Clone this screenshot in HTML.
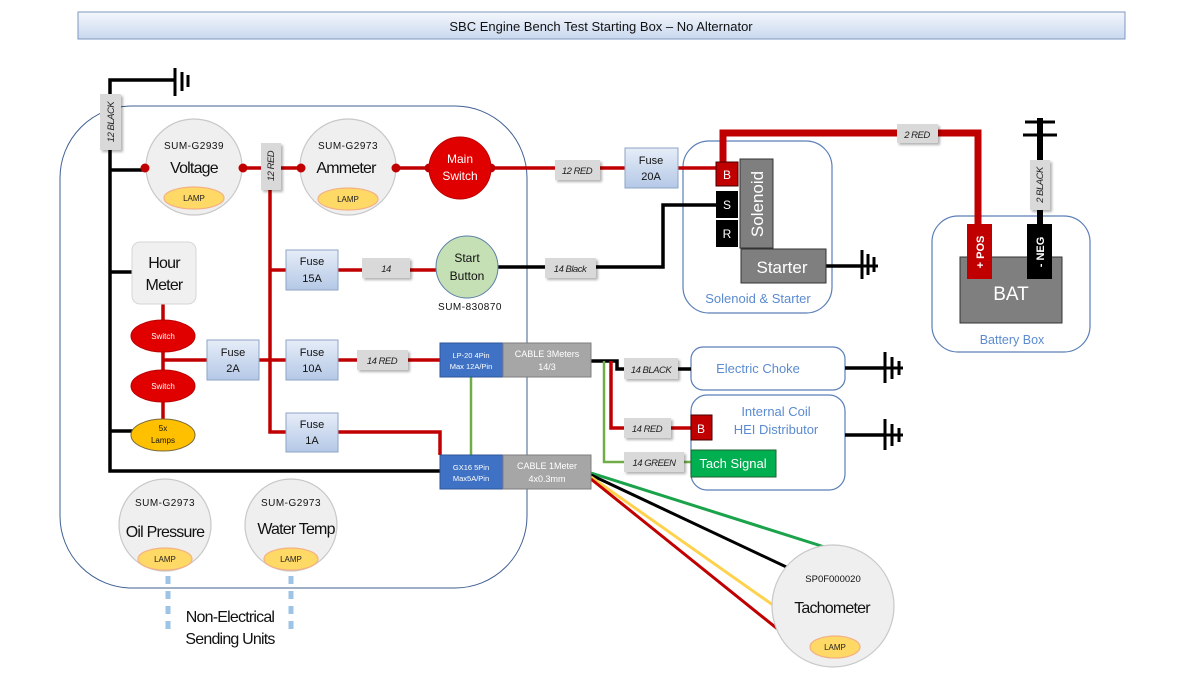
<!DOCTYPE html>
<html><head><meta charset="utf-8"><style>
html,body{margin:0;padding:0;background:#fff;}
svg{display:block;font-family:"Liberation Sans",sans-serif;}
</style></head><body>
<svg width="1200" height="675" viewBox="0 0 1200 675" xmlns="http://www.w3.org/2000/svg">
<defs>
<linearGradient id="tg" x1="0" y1="0" x2="0" y2="1"><stop offset="0" stop-color="#f4f7fc"/><stop offset="1" stop-color="#c9d8ef"/></linearGradient>
<linearGradient id="fg" x1="0" y1="0" x2="0" y2="1"><stop offset="0" stop-color="#e6edf8"/><stop offset="1" stop-color="#b4c8e6"/></linearGradient>
<filter id="sh" x="-20%" y="-20%" width="150%" height="160%"><feDropShadow dx="2" dy="2" stdDeviation="1.2" flood-color="#000" flood-opacity="0.3"/></filter>
</defs>
<!-- title -->
<rect x="78" y="12" width="1047" height="27" fill="url(#tg)" stroke="#7f97bd" stroke-width="1"/>
<text x="601" y="31" font-size="13" text-anchor="middle" fill="#111">SBC Engine Bench Test Starting Box – No Alternator</text>

<!-- big box -->
<rect x="60" y="106" width="467" height="482" rx="72" fill="none" stroke="#3f5f92" stroke-width="1"/>
<!-- sub boxes -->
<rect x="683" y="141" width="149" height="172" rx="26" fill="none" stroke="#5a7fb8" stroke-width="1.2"/>
<rect x="932" y="216" width="158" height="136" rx="26" fill="none" stroke="#5a7fb8" stroke-width="1.2"/>
<rect x="691" y="347" width="154" height="43" rx="12" fill="none" stroke="#5a7fb8" stroke-width="1.2"/>
<rect x="691" y="395" width="154" height="95" rx="16" fill="none" stroke="#5a7fb8" stroke-width="1.2"/>

<!-- black ground wires -->
<g stroke="#000" stroke-width="3.5" fill="none">
<polyline points="175,80 110,80 110,471 440,471"/>
<line x1="110" y1="170" x2="145" y2="170"/>
<line x1="110" y1="272" x2="132" y2="272"/>
<line x1="110" y1="431" x2="135" y2="431"/>
<polyline points="498,267 663,267 663,205 716,205"/>
<polyline points="591,361 617,361 617,369 691,369"/>
<line x1="825" y1="266" x2="862" y2="266"/>
<line x1="845" y1="368" x2="885" y2="368"/>
<line x1="845" y1="435" x2="885" y2="435"/>
</g>
<line x1="1040" y1="118" x2="1040" y2="228" stroke="#000" stroke-width="6"/>
<g stroke="#000" stroke-width="3">
<line x1="1025" y1="122" x2="1055" y2="122"/><line x1="1023" y1="135" x2="1057" y2="135"/>
</g>
<!-- ground symbols -->
<g stroke="#000" stroke-width="3">
<line x1="175" y1="68" x2="175" y2="96"/><line x1="182" y1="72" x2="182" y2="91"/><line x1="188" y1="75" x2="188" y2="87"/>
<line x1="862" y1="250" x2="862" y2="279"/><line x1="868" y1="254" x2="868" y2="275"/><line x1="874" y1="257" x2="874" y2="272"/><line x1="862" y1="266" x2="878" y2="266"/>
<line x1="885" y1="352" x2="885" y2="383"/><line x1="892" y1="357" x2="892" y2="379"/><line x1="899" y1="361" x2="899" y2="375"/><line x1="885" y1="368" x2="903" y2="368"/>
<line x1="885" y1="419" x2="885" y2="450"/><line x1="892" y1="424" x2="892" y2="446"/><line x1="899" y1="428" x2="899" y2="442"/><line x1="885" y1="435" x2="903" y2="435"/>
</g>

<!-- red wires -->
<g stroke="#c00000" stroke-width="3.5" fill="none">
<line x1="243" y1="168" x2="301" y2="168"/>
<line x1="396" y1="168" x2="429" y2="168"/>
<line x1="491" y1="168" x2="716" y2="168"/>
<polyline points="270,190 270,432 286,432"/>
<line x1="270" y1="270" x2="286" y2="270"/>
<line x1="338" y1="270" x2="436" y2="270"/>
<line x1="163" y1="304" x2="163" y2="436"/>
<line x1="163" y1="360" x2="207" y2="360"/>
<line x1="259" y1="360" x2="286" y2="360"/>
<line x1="338" y1="360" x2="440" y2="360"/>
<polyline points="338,432 440,432 440,455"/>
<polyline points="611,361 611,428 691,428"/>
</g>
<polyline points="723,162 723,133 978,133 978,228" fill="none" stroke="#c00000" stroke-width="7"/>
<!-- green wires -->
<g stroke="#70ad47" stroke-width="2.5" fill="none">
<line x1="471" y1="377" x2="471" y2="455"/>
<polyline points="604,361 604,462 691,462"/>
</g>
<!-- tach wires -->
<g stroke-width="3" fill="none">
<line x1="591" y1="473" x2="834" y2="550" stroke="#1aa34a"/>
<line x1="591" y1="475" x2="797" y2="572" stroke="#000"/>
<line x1="591" y1="477" x2="780" y2="610" stroke="#ffd24d"/>
<line x1="591" y1="479" x2="795" y2="643" stroke="#c00000"/>
</g>
<!-- dotted -->
<g stroke="#9dc3e6" stroke-width="5" stroke-dasharray="8,7">
<line x1="168" y1="576" x2="168" y2="630"/><line x1="291" y1="576" x2="291" y2="630"/>
</g>

<!-- hour meter -->
<rect x="132" y="242" width="64" height="62" rx="8" fill="#f0f0f0" stroke="#d6d6d6"/>

<!-- gauges -->
<g fill="#efefef" stroke="#c8c8c8" stroke-width="1.2">
<circle cx="194" cy="167" r="48"/>
<circle cx="348" cy="167" r="48"/>
<circle cx="165" cy="525" r="46"/>
<circle cx="291" cy="525" r="46"/>
<circle cx="833" cy="606" r="61"/>
</g>
<g fill="#ffd966" stroke="#f4b183" stroke-width="1.2">
<ellipse cx="194" cy="198" rx="30" ry="11"/><ellipse cx="348" cy="199" rx="30" ry="11"/>
<ellipse cx="165" cy="559" rx="27" ry="11"/><ellipse cx="291" cy="559" rx="27" ry="11"/>
<ellipse cx="835" cy="647" rx="25" ry="11"/>
</g>
<g fill="#c00000"><circle cx="145" cy="168" r="4.5"/><circle cx="243" cy="168" r="4.5"/><circle cx="301" cy="168" r="4.5"/><circle cx="396" cy="168" r="4.5"/><circle cx="429" cy="168" r="4.5"/><circle cx="491" cy="168" r="4.5"/></g>
<circle cx="460" cy="168" r="31" fill="#e00000" stroke="#b00" stroke-width="1"/>
<circle cx="467" cy="267" r="31" fill="#c5e0b4" stroke="#5b7fa8" stroke-width="1"/>
<g font-size="10" text-anchor="middle" fill="#111">
<text x="194" y="149" letter-spacing="0.5">SUM-G2939</text>
<text x="348" y="149" letter-spacing="0.5">SUM-G2973</text>
<text x="165" y="506" letter-spacing="0.5">SUM-G2973</text>
<text x="291" y="506" letter-spacing="0.5">SUM-G2973</text>
<text x="470" y="310" letter-spacing="0.5">SUM-830870</text>
<text x="833" y="582" font-size="9.5">SP0F000020</text>
</g>
<g font-size="8" text-anchor="middle" fill="#222">
<text x="194" y="201">LAMP</text><text x="348" y="202">LAMP</text><text x="165" y="562">LAMP</text><text x="291" y="562">LAMP</text><text x="835" y="650">LAMP</text>
</g>
<g font-size="16" text-anchor="middle" fill="#111" letter-spacing="-0.8">
<text x="194" y="173">Voltage</text><text x="346" y="173">Ammeter</text>
<text x="165" y="537">Oil Pressure</text><text x="296" y="534">Water Temp</text>
<text x="832" y="613">Tachometer</text>
<text x="164" y="268">Hour</text><text x="164" y="290">Meter</text>
<text x="230" y="622">Non-Electrical</text><text x="230" y="644">Sending Units</text>
</g>
<g font-size="12" text-anchor="middle" fill="#fff"><text x="460" y="163">Main</text><text x="460" y="180">Switch</text></g>
<g font-size="12" text-anchor="middle" fill="#111"><text x="467" y="262">Start</text><text x="467" y="280">Button</text></g>

<!-- switches -->
<ellipse cx="163" cy="336" rx="32" ry="16" fill="#e00000" stroke="#b00"/>
<ellipse cx="163" cy="386" rx="32" ry="16" fill="#e00000" stroke="#b00"/>
<ellipse cx="163" cy="435" rx="32" ry="16" fill="#ffc000" stroke="#7a6a3a"/>
<g font-size="8" text-anchor="middle"><text x="163" y="339" fill="#fff">Switch</text><text x="163" y="389" fill="#fff">Switch</text><text x="163" y="431" fill="#111">5x</text><text x="163" y="443" fill="#111">Lamps</text></g>

<!-- fuses -->
<g fill="url(#fg)" stroke="#8ea4c6" stroke-width="1">
<rect x="286" y="250" width="52" height="40"/><rect x="286" y="340" width="52" height="40"/><rect x="207" y="340" width="52" height="40"/><rect x="286" y="413" width="52" height="39"/><rect x="625" y="148" width="53" height="40"/>
</g>
<g font-size="11" text-anchor="middle" fill="#111">
<text x="312" y="265">Fuse</text><text x="312" y="282">15A</text>
<text x="312" y="356">Fuse</text><text x="312" y="372">10A</text>
<text x="233" y="356">Fuse</text><text x="233" y="372">2A</text>
<text x="312" y="428">Fuse</text><text x="312" y="444">1A</text>
<text x="651" y="164">Fuse</text><text x="651" y="180">20A</text>
</g>

<!-- connector boxes -->
<rect x="440" y="343" width="63" height="34" fill="#3f72c4" stroke="#2f5597"/>
<rect x="503" y="343" width="88" height="34" fill="#a6a6a6" stroke="#7f7f7f"/>
<rect x="440" y="455" width="63" height="34" fill="#3f72c4" stroke="#2f5597"/>
<rect x="503" y="455" width="88" height="34" fill="#a6a6a6" stroke="#7f7f7f"/>
<g font-size="7.5" text-anchor="middle" fill="#fff">
<text x="471" y="358">LP-20 4Pin</text><text x="471" y="369">Max 12A/Pin</text>
<text x="471" y="470">GX16 5Pin</text><text x="471" y="481">Max5A/Pin</text>
</g>
<g font-size="9" text-anchor="middle" fill="#fff">
<text x="547" y="357">CABLE 3Meters</text><text x="547" y="370">14/3</text>
<text x="547" y="469">CABLE 1Meter</text><text x="547" y="482">4x0.3mm</text>
</g>

<!-- wire labels -->
<g fill="#d9d9d9" filter="url(#sh)">
<rect x="100" y="94" width="21" height="56"/><rect x="261" y="143" width="20" height="47"/>
<rect x="555" y="160" width="45" height="20"/><rect x="362" y="258" width="48" height="20"/>
<rect x="545" y="258" width="51" height="20"/><rect x="357" y="350" width="51" height="20"/>
<rect x="897" y="124" width="41" height="19"/><rect x="1030" y="160" width="20" height="50"/>
<rect x="624" y="358" width="54" height="21"/><rect x="624" y="418" width="47" height="20"/>
<rect x="624" y="452" width="60" height="20"/>
</g>
<g font-size="9.5" font-style="italic" text-anchor="middle" fill="#222" letter-spacing="-0.5">
<text x="577" y="174">12 RED</text><text x="386" y="272">14</text><text x="570" y="272">14 Black</text>
<text x="382" y="364">14 RED</text><text x="917" y="138">2 RED</text>
<text x="651" y="373">14 BLACK</text><text x="647" y="432">14 RED</text><text x="654" y="466">14 GREEN</text>
<text transform="translate(114,122) rotate(-90)">12 BLACK</text>
<text transform="translate(274,166) rotate(-90)">12 RED</text>
<text transform="translate(1043,185) rotate(-90)">2 BLACK</text>
</g>

<!-- solenoid -->
<rect x="716" y="162" width="22" height="24" fill="#c00000" stroke="#400"/>
<rect x="716" y="191" width="22" height="27" fill="#000"/>
<rect x="716" y="220" width="22" height="27" fill="#000"/>
<rect x="740" y="159" width="33" height="89" fill="#7f7f7f" stroke="#333"/>
<rect x="741" y="249" width="85" height="34" fill="#7f7f7f" stroke="#333"/>
<g font-size="12" text-anchor="middle" fill="#fff"><text x="727" y="179">B</text><text x="727" y="209">S</text><text x="727" y="238">R</text></g>
<text transform="translate(763,204) rotate(-90)" font-size="17" text-anchor="middle" fill="#fff">Solenoid</text>
<text x="782" y="273" font-size="17" text-anchor="middle" fill="#fff">Starter</text>
<text x="758" y="303" font-size="13" text-anchor="middle" fill="#5b8bd0">Solenoid &amp; Starter</text>

<!-- battery -->
<rect x="960" y="257" width="102" height="66" fill="#7f7f7f" stroke="#333"/>
<rect x="967" y="224" width="25" height="55" fill="#c00000"/>
<rect x="1027" y="224" width="25" height="55" fill="#000"/>
<text transform="translate(984,252) rotate(-90)" font-size="11" font-weight="bold" text-anchor="middle" fill="#fff">+ POS</text>
<text transform="translate(1044,252) rotate(-90)" font-size="11" font-weight="bold" text-anchor="middle" fill="#fff">- NEG</text>
<text x="1011" y="300" font-size="19" text-anchor="middle" fill="#fff">BAT</text>
<text x="1012" y="344" font-size="12.5" text-anchor="middle" fill="#5b8bd0">Battery Box</text>

<!-- choke / HEI -->
<text x="758" y="373" font-size="13" text-anchor="middle" fill="#5b8bd0">Electric Choke</text>
<text x="776" y="416" font-size="13" text-anchor="middle" fill="#5b8bd0">Internal Coil</text>
<text x="776" y="434" font-size="13" text-anchor="middle" fill="#5b8bd0">HEI Distributor</text>
<rect x="691" y="415" width="21" height="25" fill="#c00000" stroke="#400"/>
<text x="701" y="433" font-size="12" text-anchor="middle" fill="#fff">B</text>
<rect x="691" y="450" width="85" height="27" fill="#00b050" stroke="#1f5f2f"/>
<text x="733" y="468" font-size="13" text-anchor="middle" fill="#fff">Tach Signal</text>
</svg>
</body></html>
